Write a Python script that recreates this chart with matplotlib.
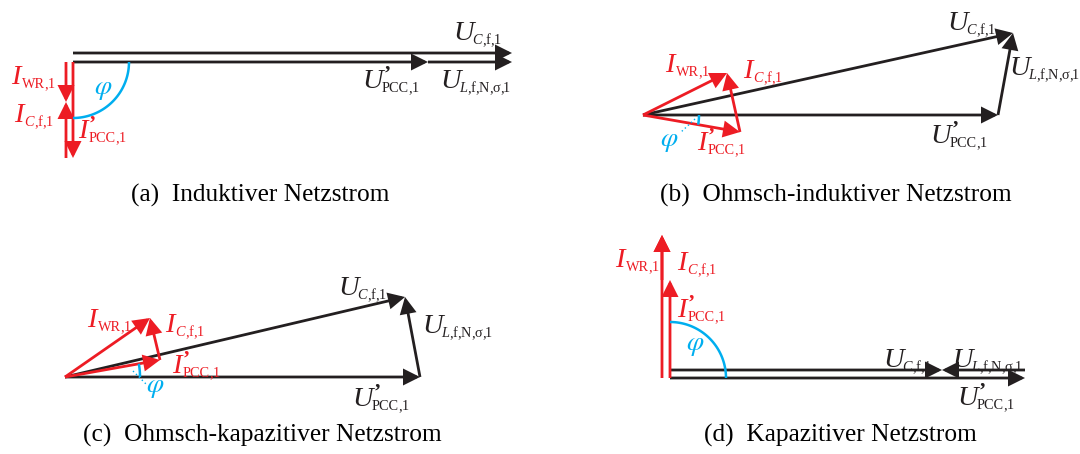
import numpy as np
import matplotlib

matplotlib.use("Agg")
import matplotlib.pyplot as plt
from matplotlib.patches import FancyArrowPatch

plt.rcParams["mathtext.fontset"] = "stix"
plt.rcParams["font.family"] = ["Liberation Serif", "DejaVu Serif"]

RED = "#ED1C24"
BLUE = "#00AEEF"
INK = "#231F20"

W, H = 1080, 454
MAIN_PT = 20.5
SUB_PT = 10.3
COMMA_GAP = -0.4

# Phasors of the four operating points, drawing units (x right, y up),
# U'_PCC on the real axis. Order: (a) inductive, (b) ohmic-inductive,
# (c) ohmic-capacitive, (d) capacitive.
panel_ids = ["a", "b", "c", "d"]
captions = [
    "(a)  Induktiver Netzstrom",
    "(b)  Ohmsch-induktiver Netzstrom",
    "(c)  Ohmsch-kapazitiver Netzstrom",
    "(d)  Kapazitiver Netzstrom",
]
u_pcc = [355 + 0j, 355 + 0j, 355 + 0j, 355 + 0j]
u_l = [84 + 0j, 15 + 82j, -15 + 80j, -83 + 0j]
u_c = [439 + 0j, 370 + 82j, 340 + 80j, 272 + 0j]
i_pcc = [-96j, 97 - 17j, 95 + 17j, 98j]
i_c = [56j, -13 + 59j, -10 + 42j, 45j]
i_wr = [-40j, 84 + 42j, 85 + 59j, 143j]

# layout: phasor origin of each panel (pixels, y up)
origins = [(73, 392), (643, 339), (65, 77), (670, 76)]
arc_radius = [56, 56, 75, 56]
# parallel offsets so coincident phasors stay visible
offset_u_c = [(0, 9), (0, 0), (0, 0), (0, 8)]
offset_u_l = [(0, 0), (0, 0), (0, 0), (0, 8)]
offset_i_wr = [(-7, 0), (0, 0), (0, 0), (-8, 0)]
caption_pos = [(260, 252), (836, 252), (262, 12), (840, 12)]

# label anchors (left, baseline)
label_pos = {
    "u_c": [(453, 414), (947, 424), (338, 159), (883, 87)],
    "u_l": [(440, 366), (1009, 379), (422, 121), (952, 87)],
    "u_pcc": [(362, 366), (930, 311), (352, 48), (957, 49)],
    "i_wr": [(11, 370), (665, 382), (87, 127), (615, 187)],
    "i_c": [(14, 332), (743, 376), (165, 122), (677, 184)],
    "i_pcc": [(78, 316), (697, 304), (172, 81), (677, 137)],
}
phi_pos = [(103, 364), (669, 312), (155, 67), (695, 109)]
phi_leader = [None, ((695, 335), (680, 321)), ((133, 83), (147, 69)), None]

# symbol, primed, subscript pieces (text, italic)
labels = {
    "u_c": ("U", False, [("C", True), (",f,1", False)]),
    "u_l": ("U", False, [("L", True), (",f,N,σ,1", False)]),
    "u_pcc": ("U", True, [("PCC,1", False)]),
    "i_wr": ("I", False, [("WR,1", False)]),
    "i_c": ("I", False, [("C", True), (",f,1", False)]),
    "i_pcc": ("I", True, [("PCC,1", False)]),
}
label_color = {"u_c": INK, "u_l": INK, "u_pcc": INK, "i_wr": RED, "i_c": RED, "i_pcc": RED}


def arrow(ax, start, end, color, shift=(0, 0)):
    p0 = (start.real + shift[0], start.imag + shift[1])
    p1 = (end.real + shift[0], end.imag + shift[1])
    ax.add_patch(
        FancyArrowPatch(
            p0,
            p1,
            arrowstyle="-|>,head_length=0.9,head_width=0.45",
            mutation_scale=10,
            shrinkA=0,
            shrinkB=0,
            color=color,
            lw=2.0,
            joinstyle="miter",
            capstyle="butt",
        )
    )


def tokens(text):
    # split so every comma is its own token and gets a fixed gap
    out, buf = [], ""
    for ch in text:
        if ch == ",":
            if buf:
                out.append(buf)
            out.append(ch)
            buf = ""
        else:
            buf += ch
    if buf:
        out.append(buf)
    return out


def phasor_label(ax, renderer, xy, symbol, primed, pieces, color):
    x, y = xy
    t = ax.text(x, y, symbol, style="italic", fontsize=MAIN_PT, color=color,
                ha="left", va="baseline")
    x1 = t.get_window_extent(renderer).x1
    if primed:
        ax.text(x1 + 1, y + 8, "\u2019", fontsize=MAIN_PT * 0.75, color=color,
                ha="left", va="baseline", fontweight="bold")
    xs = x1 + (1 if symbol == "I" else -1)
    for text, italic in pieces:
        for tok in tokens(text):
            s = ax.text(xs, y - 4, tok, style="italic" if italic else "normal",
                        fontsize=SUB_PT, color=color, ha="left", va="baseline")
            xs = s.get_window_extent(renderer).x1
            if tok == ",":
                xs += COMMA_GAP


fig = plt.figure(figsize=(W / 100, H / 100), dpi=100)
ax = fig.add_axes([0, 0, 1, 1])
ax.set_xlim(0, W)
ax.set_ylim(0, H)
ax.set_axis_off()
renderer = fig.canvas.get_renderer()

for k in range(len(panel_ids)):
    o = complex(*origins[k])
    arrow(ax, o, o + u_pcc[k], INK)
    arrow(ax, o, o + u_c[k], INK, offset_u_c[k])
    arrow(ax, o + u_pcc[k], o + u_pcc[k] + u_l[k], INK, offset_u_l[k])
    arrow(ax, o, o + i_pcc[k], RED)
    arrow(ax, o, o + i_wr[k], RED, offset_i_wr[k])
    arrow(ax, o + i_pcc[k], o + i_pcc[k] + i_c[k], RED, offset_i_wr[k])

    # phase angle between U'_PCC and I'_PCC
    phi = np.angle(i_pcc[k])
    t = np.linspace(0, phi, 60)
    ax.plot(o.real + arc_radius[k] * np.cos(t), o.imag + arc_radius[k] * np.sin(t),
            color=BLUE, lw=1.8, solid_capstyle="butt")
    if phi_leader[k] is not None:
        (x0, y0), (x1, y1) = phi_leader[k]
        ax.plot([x0, x1], [y0, y1], color=BLUE, lw=1.0, ls=(0, (1, 2)))
    ax.text(*phi_pos[k], r"$\varphi$", color=BLUE, fontsize=20, ha="center", va="center")

    for key, (symbol, primed, pieces) in labels.items():
        phasor_label(ax, renderer, label_pos[key][k], symbol, primed, pieces,
                     label_color[key])

    ax.text(*caption_pos[k], captions[k], color="black", fontsize=18.3,
            ha="center", va="baseline")

fig.savefig("out.png", dpi=100)
